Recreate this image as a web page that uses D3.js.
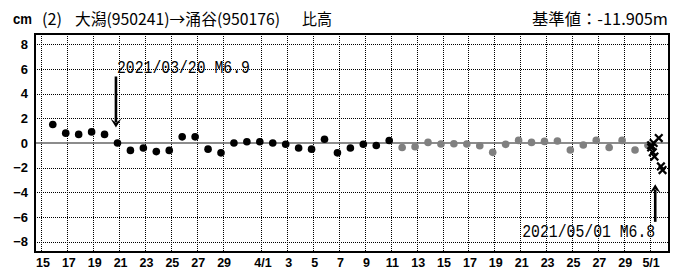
<!DOCTYPE html>
<html><head><meta charset="utf-8">
<script src="https://cdn.jsdelivr.net/npm/d3@7/dist/d3.min.js"></script>
<style>
html,body{margin:0;padding:0;background:#fff;}
svg{display:block;}
</style></head>
<body>
<svg id="chart" width="681" height="271"></svg>
<script>
// ---- data ----
const finalStart = [2021, 2, 15];      // 3/15 (final solutions, black)
const finalValues = [1.5, 0.8, 0.7, 0.9, 0.7, 0.0, -0.6, -0.4, -0.7, -0.6,
  0.5, 0.5, -0.5, -0.8, 0.0, 0.1, 0.1, 0.0, -0.1, -0.4,
  -0.5, 0.3, -0.8, -0.4, -0.1, -0.2, 0.2];
const rapidStart = [2021, 3, 11];      // 4/11 (rapid solutions, gray)
const rapidValues = [-0.36, -0.3, 0.05, -0.08, -0.06, -0.08, -0.22, -0.76, -0.11, 0.21,
  0.05, 0.13, 0.16, -0.57, -0.16, 0.21, -0.36, 0.21, -0.57, -0.19];
const quickHours = [3, 3, 6, 7.5, 9, 17, 21, 24];   // hours after 5/1 00:00 (quick solutions, x)
const quickValues = [-0.36, -0.19, -0.75, 0.0, -1.1, 0.4, -1.9, -2.2];
const yTicks = [-8, -6, -4, -2, 0, 2, 4, 6, 8];
const xTickDates = [[2,15],[2,17],[2,19],[2,21],[2,23],[2,25],[2,27],[2,29],
  [3,1],[3,3],[3,5],[3,7],[3,9],[3,11],[3,13],[3,15],[3,17],[3,19],[3,21],[3,23],[3,25],[3,27],[3,29],[4,1]];
const xTickLabels = ["15","17","19","21","23","25","27","29","4/1","3","5","7","9","11","13","15","17","19","21","23","25","27","29","5/1"];
const events = [
  {time: [2021,2,20,18,9], label: "2021/03/20 M6.9", from: 5.4, to: 1.25, text: 5.7, anchor: "start"},
  {time: [2021,4,1,10,27], label: "2021/05/01 M6.8", from: -6.4, to: -3.35, text: -7.6, anchor: "end"}
];
const titleLeft = "cm";
const titleNo = "(2)";
const titleMain = "大潟(950241)→涌谷(950176)";
const titleKind = "比高";
const titleRight = "基準値：-11.905m";

// ---- helpers ----
const U = (y,m,d,h=0,mi=0) => new Date(Date.UTC(y,m,d,h,mi));
const DAY = 86400000;
const finalPts = finalValues.map((v,i)=>({t:new Date(U(...finalStart).getTime()+i*DAY+21*3600000), v}));
const rapidPts = rapidValues.map((v,i)=>({t:new Date(U(...rapidStart).getTime()+i*DAY+21*3600000), v}));
const quickPts = quickValues.map((v,i)=>({t:new Date(U(2021,4,1).getTime()+quickHours[i]*3600000), v}));

// ---- layout ----
const L = 35, R = 669, T = 34, B = 252;
const svg = d3.select("#chart");
const x = d3.scaleUtc().domain([U(2021,2,14,12), U(2021,4,2,12)]).range([L, R]);
const y = d3.scaleLinear().domain([-8.85, 8.85]).range([B, T]);

// gridlines
const xTicks = xTickDates.map(([m,d])=>U(2021,m,d));
svg.append("g").selectAll("line").data(xTicks).join("line")
  .attr("x1", d=>Math.round(x(d))+0.5).attr("x2", d=>Math.round(x(d))+0.5).attr("y1", T).attr("y2", B)
  .attr("stroke", "#000").attr("stroke-width", 1).attr("stroke-dasharray", "1,1");
svg.append("g").selectAll("line").data(yTicks.filter(d=>d!==0)).join("line")
  .attr("x1", L).attr("x2", R).attr("y1", d=>Math.round(y(d))+0.5).attr("y2", d=>Math.round(y(d))+0.5)
  .attr("stroke", "#000").attr("stroke-width", 1).attr("stroke-dasharray", "1,1");
svg.append("line").attr("x1", L).attr("x2", R).attr("y1", y(0)).attr("y2", y(0))
  .attr("stroke", "#666").attr("stroke-width", 1.6);

// axes (labels)
const tickFont = "'Liberation Sans Narrow','Arial Narrow','Liberation Sans',Arial,sans-serif";
const yAxis = d3.axisLeft(y).tickValues(yTicks).tickSize(0).tickPadding(7).tickFormat(d=>d===0?"0":(d<0?"−"+(-d):String(d)));
const gy = svg.append("g").attr("transform", `translate(${L},0)`).call(yAxis);
gy.select(".domain").remove();
gy.selectAll("text").attr("font-family", tickFont)
  .attr("font-weight", "bold").attr("font-size", 13).attr("fill", "#000");

const xAxis = d3.axisBottom(x).tickValues(xTicks).tickSize(0).tickPadding(6)
  .tickFormat((d,i)=>xTickLabels[i]);
const gx = svg.append("g").attr("transform", `translate(1,${B})`).call(xAxis);
gx.select(".domain").remove();
gx.selectAll("text").attr("font-family", tickFont)
  .attr("font-weight", "bold").attr("font-size", 12.5).attr("fill", "#000");

// frame
svg.append("rect").attr("x", L).attr("y", T).attr("width", R-L).attr("height", B-T)
  .attr("fill", "none").attr("stroke", "#000").attr("stroke-width", 2);

// points
svg.append("g").selectAll("circle").data(rapidPts).join("circle")
  .attr("cx", d=>x(d.t)).attr("cy", d=>y(d.v)).attr("r", 3.8).attr("fill", "#808080");
svg.append("g").selectAll("circle").data(finalPts).join("circle")
  .attr("cx", d=>x(d.t)).attr("cy", d=>y(d.v)).attr("r", 3.8).attr("fill", "#000");
const cs = 3.8;
svg.append("g").selectAll("path").data(quickPts).join("path")
  .attr("d", d=>{const cx=x(d.t), cy=y(d.v);
    return `M${cx-cs},${cy-cs}L${cx+cs},${cy+cs}M${cx-cs},${cy+cs}L${cx+cs},${cy-cs}`;})
  .attr("stroke", "#000").attr("stroke-width", 2.2).attr("fill", "none");

// events
events.forEach(e=>{
  const ex = x(U(...e.time));
  const y1 = y(e.from), y2 = y(e.to);
  const dir = y2 > y1 ? 1 : -1;
  const ah = 9, aw = 5.5;
  svg.append("line").attr("x1", ex).attr("x2", ex).attr("y1", y1).attr("y2", y2 - dir*ah*0.6)
    .attr("stroke", "#000").attr("stroke-width", 2.6);
  svg.append("path").attr("d", `M${ex},${y2}L${ex-aw},${y2-dir*ah}L${ex},${y2-dir*ah*0.55}L${ex+aw},${y2-dir*ah}Z`)
    .attr("fill", "#000");
  svg.append("text").attr("x", e.anchor==="start" ? ex+1 : ex).attr("y", y(e.text))
    .attr("text-anchor", e.anchor)
    .attr("font-family", "'Liberation Mono','DejaVu Sans Mono',monospace")
    .attr("font-size", 18).attr("textLength", 133).attr("lengthAdjust", "spacingAndGlyphs")
    .attr("fill", "#000").text(e.label);
});

// titles
const jp = "'Noto Sans CJK JP','Noto Sans',sans-serif";
svg.append("text").attr("x", 13).attr("y", 24).attr("font-family", "'Liberation Sans',Arial,sans-serif")
  .attr("font-weight", "bold").attr("font-size", 14).attr("textLength", 19).attr("lengthAdjust","spacingAndGlyphs").text(titleLeft);
svg.append("text").attr("x", 42).attr("y", 25).attr("font-family", jp).attr("font-size", 16)
  .attr("textLength", 20).attr("lengthAdjust","spacingAndGlyphs").text(titleNo);
svg.append("text").attr("x", 75).attr("y", 25).attr("font-family", jp).attr("font-size", 16)
  .attr("textLength", 205).attr("lengthAdjust","spacingAndGlyphs").text(titleMain);
svg.append("text").attr("x", 302).attr("y", 25).attr("font-family", jp).attr("font-size", 16)
  .attr("textLength", 30).attr("lengthAdjust","spacingAndGlyphs").text(titleKind);
svg.append("text").attr("x", 532).attr("y", 25).attr("font-family", jp).attr("font-size", 16)
  .attr("textLength", 136).attr("lengthAdjust","spacingAndGlyphs").text(titleRight);
</script>
</body></html>
